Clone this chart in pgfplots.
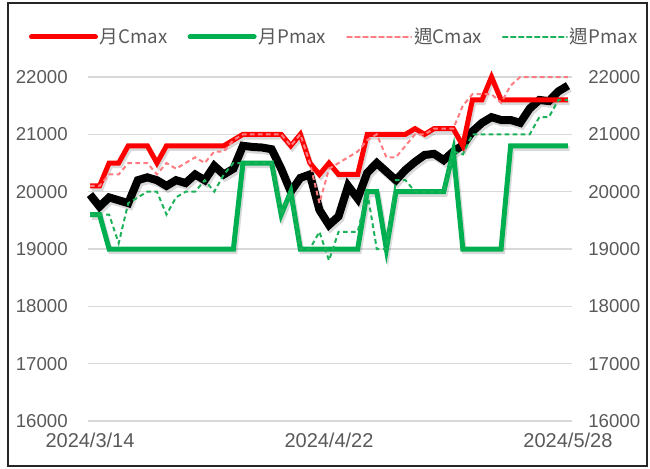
\documentclass[border=0pt]{standalone}
\usepackage{fontspec}
\setmainfont{Liberation Sans}
\newfontfamily\cjk{Noto Sans CJK TC}
\usepackage{pgfplots}
\usepackage{pgfplotstable}
\pgfplotsset{compat=1.18}
\definecolor{cred}{HTML}{FF0000}
\definecolor{cgreen}{HTML}{00B050}
\definecolor{cpink}{HTML}{FF7C80}
\definecolor{cgd}{HTML}{1DB25A}
\definecolor{tickgray}{HTML}{595959}
\definecolor{gridgray}{HTML}{D9D9D9}

\pgfplotstableread{
i black red green pink gd
0 19950 20100 19600 20100 19600
1 19740 20100 19600 20100 19600
2 19900 20500 19000 20300 19600
3 19850 20500 19000 20300 19100
4 19800 20800 19000 20500 19800
5 20200 20800 19000 20500 19900
6 20250 20800 19000 20500 20000
7 20200 20500 19000 20300 20000
8 20100 20800 19000 20500 19600
9 20200 20800 19000 20400 19900
10 20150 20800 19000 20500 20000
11 20300 20800 19000 20600 20000
12 20200 20800 19000 20500 20200
13 20450 20800 19000 20700 20000
14 20300 20800 19000 20700 20300
15 20400 20900 19000 20900 20500
16 20800 21000 20500 21000 20500
17 20780 21000 20500 21000 20500
18 20770 21000 20500 21000 20500
19 20740 21000 20500 21000 20500
20 20400 21000 19600 21000 19600
21 20000 20800 20000 20800 20000
22 20240 21000 19000 21000 19000
23 20300 20500 19000 20500 19000
24 19680 20300 19000 19800 19300
25 19420 20500 19000 20400 18800
26 19570 20300 19000 20500 19300
27 20100 20300 19000 20600 19300
28 19880 20300 19000 20700 19300
29 20330 21000 20000 20900 20000
30 20500 21000 20000 21000 19000
31 20350 21000 19000 20600 19000
32 20200 21000 20000 20600 20200
33 20380 21000 20000 20800 20200
34 20520 21100 20000 21000 20000
35 20640 21000 20000 21000 20000
36 20660 21100 20000 21100 20000
37 20550 21100 20000 21100 20000
38 20700 21100 20700 21100 20700
39 20810 20800 19000 21500 20650
40 21050 21600 19000 21700 21000
41 21200 21600 19000 21700 21000
42 21300 22000 19000 21700 21000
43 21250 21600 19000 21550 21000
44 21250 21600 20800 21850 21000
45 21200 21600 20800 22000 21000
46 21450 21600 20800 22000 21000
47 21600 21600 20800 22000 21300
48 21580 21600 20800 22000 21300
49 21750 21600 20800 22000 21600
50 21850 21600 20800 22000 21600
}\data

\begin{document}
\begin{tikzpicture}
\useasboundingbox (0,0) rectangle (487.5pt,351pt);
\draw[line width=0.9pt, black!85] (6pt,1.5pt) rectangle (485.25pt,348.75pt);
\begin{axis}[
  at={(66pt,35.25pt)}, anchor=south west,
  scale only axis, width=363pt, height=258pt,
  xmin=-0.21, xmax=50.42, ymin=16000, ymax=22000,
  clip=false,
  ytick={16000,17000,...,22000},
  xtick={0,25,50}, xticklabels={2024/3/14,2024/4/22,2024/5/28},
  axis line style={draw=none}, major tick style={draw=none},
  ymajorgrids, grid style={gridgray, line width=0.9pt},
  scaled y ticks=false,
  /pgf/number format/assume math mode=true,
  yticklabel style={/pgf/number format/1000 sep={}, font=\fontsize{14}{16}\selectfont, text=tickgray, inner sep=0pt, anchor=east, xshift=-15pt},
  xticklabel style={font=\fontsize{15}{17}\selectfont, text=tickgray, inner sep=0pt, anchor=north, yshift=-9pt},
  legend columns=4,
  legend style={at={(-0.1225,1.1163)}, anchor=west, draw=none, fill=none,
    font=\cjk\fontsize{14}{16}\selectfont, text=tickgray, inner sep=0pt,
    nodes={inner sep=0pt},
    /tikz/every even column/.append style={column sep=15pt},
    /tikz/every odd column/.append style={column sep=1.5pt}},
  legend image code/.code={\draw[#1, line cap=round] (0pt,0pt) -- (48pt,0pt);},
]
% shadows
\addplot[forget plot, black, opacity=0.15, line width=6pt, xshift=1.2pt, yshift=-2pt] table[x=i,y=black]{\data};
\addplot[forget plot, black, opacity=0.15, line width=3.75pt, xshift=1.2pt, yshift=-2pt] table[x=i,y=red]{\data};
\addplot[forget plot, black, opacity=0.15, line width=3.75pt, xshift=1.2pt, yshift=-2pt] table[x=i,y=green]{\data};
% black index line
\addplot[forget plot, black, line width=6pt] table[x=i,y=black]{\data};
\addplot[cred, line width=3.75pt] table[x=i,y=red]{\data};
\addlegendentry{月Cmax}
\addplot[cgreen, line width=3.75pt] table[x=i,y=green]{\data};
\addlegendentry{月Pmax}
\addplot[cpink, line width=1.5pt, dash pattern=on 3.5pt off 2.5pt] table[x=i,y=pink]{\data};
\addlegendentry{週Cmax}
\addplot[cgd, line width=1.5pt, dash pattern=on 3.5pt off 2.5pt] table[x=i,y=gd]{\data};
\addlegendentry{週Pmax}
\end{axis}
\begin{axis}[
  at={(66pt,35.25pt)}, anchor=south west,
  scale only axis, width=363pt, height=258pt,
  xmin=-0.21, xmax=50.42, ymin=16000, ymax=22000,
  ytick={16000,17000,...,22000}, xtick=\empty,
  axis line style={draw=none}, major tick style={draw=none},
  yticklabel pos=right,
  scaled y ticks=false,
  /pgf/number format/assume math mode=true,
  yticklabel style={/pgf/number format/1000 sep={}, font=\fontsize{14}{16}\selectfont, text=tickgray, inner sep=0pt, anchor=west, xshift=12pt},
]
\addplot[draw=none] coordinates {(0,16000)};
\end{axis}
\end{tikzpicture}
\end{document}
